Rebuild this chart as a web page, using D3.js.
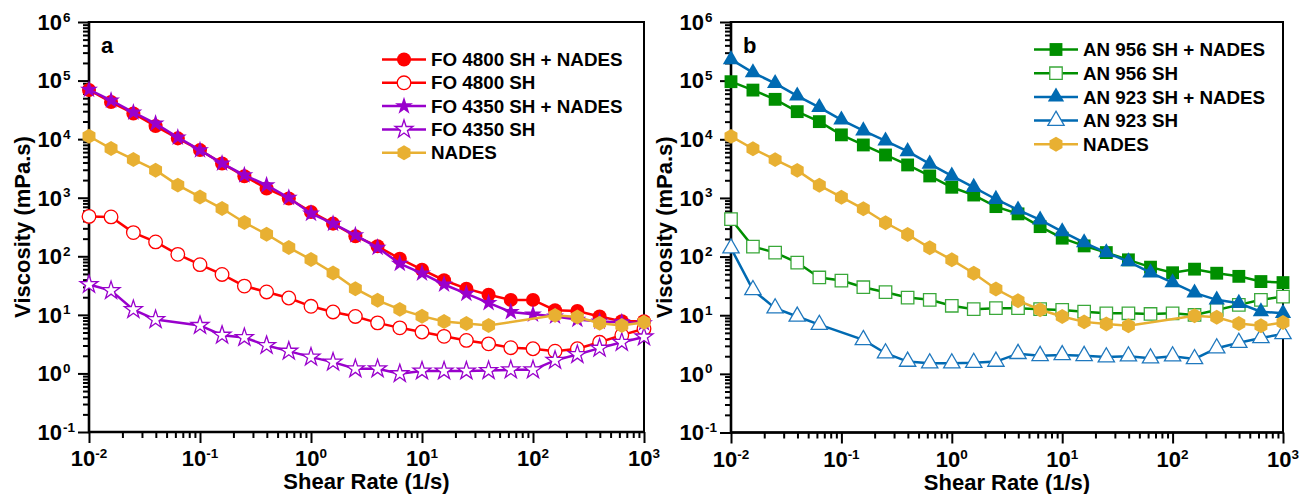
<!DOCTYPE html>
<html>
<head>
<meta charset="utf-8">
<script src="https://cdn.jsdelivr.net/npm/d3@7"></script>
<style>
  body { margin: 0; background: #fff; }
  svg text { font-family: 'Liberation Sans', Arial, sans-serif; font-weight: bold; fill: #000; }
</style>
</head>
<body>
<svg id="chart" width="1299" height="494"></svg>
<script>
// shear rate (1/s), 5 points per decade
const shearRate = [0.01, 0.0158, 0.0251, 0.0398, 0.0631, 0.1, 0.158, 0.251, 0.398, 0.631,
  1, 1.58, 2.51, 3.98, 6.31, 10, 15.8, 25.1, 39.8, 63.1, 100, 158, 251, 398, 631, 1000]

// viscosity (mPa.s), null = no point measured
const fo4800Nades = [69000, 43000, 27500, 16700, 10300, 6500, 3850, 2330, 1440, 970, 572, 361, 220,
  148, 91, 59, 39, 28, 22, 18, 18, 12, 11.6, 9.4, 7.8, 7.8]
const fo4800 = [480, 470, 254, 176, 108, 72, 49, 31, 24.6, 19.4, 14, 11.2, 9.4,
  7.3, 6.0, 5.1, 4.3, 3.66, 3.2, 2.75, 2.64, 2.4, 2.64, 3.4, 4.5, 5.8]
const fo4350Nades = [70000, 46000, 28600, 18500, 10700, 6500, 3850, 2430, 1640, 1000, 537, 361, 229,
  141, 75, 51, 33, 23, 16, 11.2, 10.2, 9.4, 8.3, 7.7, 7.5, 7.2]
const fo4350 = [33, 26, 12.3, 8.3, null, 6.6, 4.5, 4.1, 3.0, 2.4, 1.9, 1.56, 1.2,
  1.2, 0.99, 1.1, 1.1, 1.1, 1.12, 1.15, 1.15, 1.67, 2.1, 2.7, 3.4, 4.2]
const nades = [11200, 6900, 4500, 2950, 1640, 1030, 653, 377, 238, 141, 88, 52, 28,
  17.7, 12.4, 9.5, 7.7, 7.1, 6.6, null, null, 9.8, 9.2, 7.2, 6.6, 7.5]
const an956Nades = [96000, 69000, 48000, 29600, 20000, 11900, 8000, 5400, 3650, 2370, 1520, 1120, 711,
  535, 324, 206, 152, 117, 88, 66, 53, 61, 52, 46, 37.5, 36]
const an956 = [434, 148, 117, 79, 44, 39, 30, 24.7, 20, 18.3, 14.5, 12.7, 13.2,
  13.2, 12.7, 12.3, 11.5, 10.8, 10.8, 10.5, 10.8, 10.1, 12.3, 15, 18.3, 20.8]
const an923Nades = [230000, 137000, 90000, 55000, 35000, 21400, 14000, 9400, 6200, 3800, 2370, 1520, 950,
  625, 422, 267, 173, 117, 82, 53, 36, 24, 18.3, 16, 11.5, 10.8]
const an923 = [139, 27, 13.2, 9.5, 6.9, null, 3.8, 2.25, 1.62, 1.52, 1.52, 1.55, 1.62,
  2.2, 2.03, 2.1, 2.03, 1.93, 2.0, 1.85, 2.0, 1.8, 2.74, 3.4, 4.1, 4.8]

const xExponents = ['-2', '-1', '0', '1', '2', '3']
const yExponents = ['-1', '0', '1', '2', '3', '4', '5', '6']
const xTitle = 'Shear Rate (1/s)'
const yTitle = 'Viscosity (mPa.s)'

// pointy-top hexagon for the NADES series
const hexagon = {
  draw (ctx, size) {
    const r = Math.sqrt(size / 2.598)
    for (let k = 0; k < 6; k++) {
      const a = Math.PI / 3 * k - Math.PI / 2
      if (k === 0) ctx.moveTo(r * Math.cos(a), r * Math.sin(a))
      else ctx.lineTo(r * Math.cos(a), r * Math.sin(a))
    }
    ctx.closePath()
  }
}

const seriesA = [
  { name: 'FO 4800 SH + NADES', values: fo4800Nades, color: '#FF0000', type: d3.symbolCircle, size: 155, filled: true },
  { name: 'FO 4800 SH', values: fo4800, color: '#FF0000', type: d3.symbolCircle, size: 145, filled: false },
  { name: 'FO 4350 SH + NADES', values: fo4350Nades, color: '#9900CC', type: d3.symbolStar, size: 100, filled: true },
  { name: 'FO 4350 SH', values: fo4350, color: '#9900CC', type: d3.symbolStar, size: 100, filled: false },
  { name: 'NADES', values: nades, color: '#E8B032', type: hexagon, size: 145, filled: true }
]
const seriesB = [
  { name: 'AN 956 SH + NADES', values: an956Nades, color: '#008F00', type: d3.symbolSquare, size: 165, filled: true },
  { name: 'AN 956 SH', values: an956, color: '#008F00', stroke: '#3AA83A', type: d3.symbolSquare, size: 155, filled: false },
  { name: 'AN 923 SH + NADES', values: an923Nades, color: '#006AB2', type: d3.symbolTriangle, size: 115, filled: true },
  { name: 'AN 923 SH', values: an923, color: '#006AB2', stroke: '#1F78BE', type: d3.symbolTriangle, size: 115, filled: false },
  { name: 'NADES', values: nades, color: '#E8B032', type: hexagon, size: 145, filled: true }
]

const svg = d3.select('#chart')

function drawMarker (sel, s) {
  sel.attr('d', d3.symbol().type(s.type).size(s.size)())
    .attr('fill', s.filled ? s.color : '#fff')
    .attr('stroke', s.filled ? 'none' : (s.stroke || s.color))
    .attr('stroke-width', s.filled ? 0 : 1.3)
}

function panel (cfg) {
  const x = d3.scaleLog().domain([1e-2, 1e3]).range([cfg.x0, cfg.x1])
  const y = d3.scaleLog().domain([1e-1, 1e6]).range([cfg.y1, cfg.y0])
  const g = svg.append('g')

  const major = d => Math.abs(Math.log10(d) - Math.round(Math.log10(d))) < 1e-6
  const minorX = x.ticks().filter(d => !major(d))
  const minorY = []
  for (let e = -1; e < 6; e++) for (let m = 2; m < 10; m++) minorY.push(m * Math.pow(10, e))

  const tickStyle = sel => {
    sel.select('.domain').remove()
    sel.selectAll('line').attr('stroke', '#000').attr('stroke-width', 2)
  }
  g.append('g').attr('transform', `translate(0,${cfg.y1})`)
    .call(d3.axisBottom(x).tickValues(xExponents.map(e => Math.pow(10, +e))).tickSize(11).tickFormat(''))
    .call(tickStyle)
  g.append('g').attr('transform', `translate(0,${cfg.y1})`)
    .call(d3.axisBottom(x).tickValues(minorX).tickSize(6).tickFormat(''))
    .call(tickStyle)
  g.append('g').attr('transform', `translate(${cfg.x0},0)`)
    .call(d3.axisLeft(y).tickValues(yExponents.map(e => Math.pow(10, +e))).tickSize(11).tickFormat(''))
    .call(tickStyle)
  g.append('g').attr('transform', `translate(${cfg.x0},0)`)
    .call(d3.axisLeft(y).tickValues(minorY).tickSize(6).tickFormat(''))
    .call(tickStyle)

  // frame
  g.append('rect').attr('x', cfg.x0).attr('y', cfg.y0)
    .attr('width', cfg.x1 - cfg.x0).attr('height', cfg.y1 - cfg.y0)
    .attr('fill', 'none').attr('stroke', '#000').attr('stroke-width', 2)
  g.append('path').attr('d', `M${cfg.x0},${cfg.y0 - 1}V${cfg.y1}H${cfg.x1 + 1}`)
    .attr('fill', 'none').attr('stroke', '#000').attr('stroke-width', 2.6)

  // tick labels
  xExponents.forEach(e => {
    const t = g.append('text').attr('x', x(Math.pow(10, +e))).attr('y', cfg.y1 + 34)
      .attr('text-anchor', 'middle').style('font-size', '22px')
    t.append('tspan').text('10')
    t.append('tspan').attr('dy', -8).style('font-size', '13.5px').text(e)
  })
  yExponents.forEach(e => {
    const yy = y(Math.pow(10, +e))
    g.append('text').attr('x', cfg.x0 - 27).attr('y', yy + 7.8)
      .attr('text-anchor', 'end').style('font-size', '22px').text('10')
    g.append('text').attr('x', cfg.x0 - 26).attr('y', yy - 0.5)
      .style('font-size', '13.5px').text(e)
  })

  // axis titles
  g.append('text').attr('x', (cfg.x0 + cfg.x1) / 2).attr('y', cfg.y1 + 57)
    .attr('text-anchor', 'middle').style('font-size', '22px').text(xTitle)
  g.append('text')
    .attr('transform', `translate(${cfg.x0 - 59},${(cfg.y0 + cfg.y1) / 2}) rotate(-90)`)
    .attr('text-anchor', 'middle').style('font-size', '22px').text(yTitle)

  g.append('text').attr('x', cfg.x0 + 12).attr('y', cfg.y0 + 31)
    .style('font-size', '22px').text(cfg.letter)

  // series
  const line = d3.line().x(d => x(d[0])).y(d => y(d[1]))
  cfg.series.forEach(s => {
    const pts = shearRate.map((r, i) => [r, s.values[i]]).filter(d => d[1] != null)
    const sg = g.append('g')
    sg.append('path').datum(pts).attr('d', line)
      .attr('fill', 'none').attr('stroke', s.color).attr('stroke-width', 2.5)
    sg.selectAll('path.m').data(pts).join('path').attr('class', 'm')
      .attr('transform', d => `translate(${x(d[0])},${y(d[1])})`)
      .call(drawMarker, s)
  })

  // legend
  cfg.series.forEach((s, i) => {
    const ly = cfg.legendY + i * cfg.legendStep
    const lg = g.append('g').attr('transform', `translate(${cfg.legendX},${ly})`)
    lg.append('line').attr('x1', 0).attr('x2', 44).attr('stroke', s.color).attr('stroke-width', 2.5)
    lg.append('path').attr('transform', 'translate(22,0)').call(drawMarker, s)
    lg.append('text').attr('x', 49).attr('y', 6.6).style('font-size', '18.8px').text(s.name)
  })
}

panel({ x0: 89, x1: 644, y0: 22, y1: 432, letter: 'a', series: seriesA, legendX: 382, legendY: 59.5, legendStep: 23.3 })
panel({ x0: 731, x1: 1283, y0: 22, y1: 432.5, letter: 'b', series: seriesB, legendX: 1034, legendY: 49.5, legendStep: 23.7 })
</script>
</body>
</html>
